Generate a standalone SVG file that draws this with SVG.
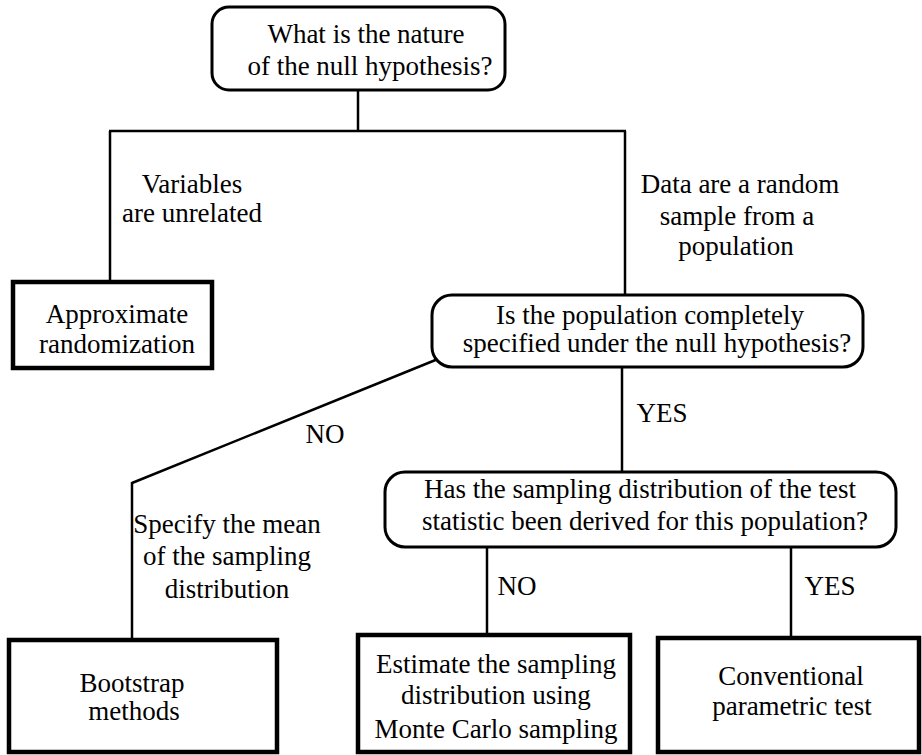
<svg xmlns="http://www.w3.org/2000/svg" width="922" height="755" viewBox="0 0 922 755">
<style>
  text { font-family: "Liberation Serif", "Times New Roman", serif; font-size: 27px; fill: #000; text-anchor: middle; }
  .q { fill: #fff; stroke: #000; stroke-width: 3; }
  .r { fill: #fff; stroke: #000; stroke-width: 4.5; }
  .c { stroke: #000; stroke-width: 2.5; fill: none; }
</style>
<rect x="0" y="0" width="922" height="755" fill="#fff"/>
<g id="connectors">
  <line class="c" x1="358" y1="90" x2="358" y2="131"/>
  <line class="c" x1="109" y1="131" x2="626" y2="131" stroke-width="3.5"/>
  <line class="c" x1="110" y1="131" x2="110" y2="282"/>
  <line class="c" x1="625" y1="131" x2="625" y2="295"/>
  <line class="c" x1="622" y1="367" x2="622" y2="472"/>
  <line class="c" x1="438" y1="359" x2="132" y2="483" stroke-width="4"/>
  <line class="c" x1="132" y1="482" x2="132" y2="640"/>
  <line class="c" x1="487" y1="547" x2="487" y2="635"/>
  <line class="c" x1="791" y1="547" x2="791" y2="638"/>
  <text x="192" y="193">Variables</text>
  <text x="192" y="222">are unrelated</text>
  <text x="740" y="193">Data are a random</text>
  <text x="737" y="225">sample from a</text>
  <text x="736" y="255">population</text>
  <text x="662" y="422">YES</text>
  <text x="325" y="443">NO</text>
  <text x="227" y="533">Specify the mean</text>
  <text x="227" y="565">of the sampling</text>
  <text x="227" y="598">distribution</text>
  <text x="517" y="595">NO</text>
  <text x="830" y="595">YES</text>
</g>
<g id="n_top">
  <rect class="q" x="212" y="7" width="293" height="83" rx="17"/>
  <text x="366" y="43">What is the nature</text>
  <text x="370" y="75">of the null hypothesis?</text>
</g>
<g id="n_approx">
  <rect class="r" x="13" y="282" width="199" height="86" stroke-width="5"/>
  <text x="117" y="323">Approximate</text>
  <text x="117" y="353">randomization</text>
</g>
<g id="n_population">
  <rect class="q" x="432" y="295" width="431" height="72" rx="20"/>
  <text x="650" y="324">Is the population completely</text>
  <text x="657" y="352">specified under the null hypothesis?</text>
</g>
<g id="n_sampling">
  <rect class="q" x="385" y="472" width="511" height="75" rx="20"/>
  <text x="640" y="498">Has the sampling distribution of the test</text>
  <text x="645" y="530">statistic been derived for this population?</text>
</g>
<g id="n_bootstrap">
  <rect class="r" x="9" y="640" width="268" height="112" stroke-width="4"/>
  <text x="132" y="692">Bootstrap</text>
  <text x="134" y="720">methods</text>
</g>
<g id="n_montecarlo">
  <rect class="r" x="358" y="635" width="272" height="117"/>
  <text x="496" y="673">Estimate the sampling</text>
  <text x="496" y="704">distribution using</text>
  <text x="496" y="738">Monte Carlo sampling</text>
</g>
<g id="n_conventional">
  <rect class="r" x="658" y="638" width="261" height="114" stroke-width="4"/>
  <text x="791" y="685">Conventional</text>
  <text x="792" y="715">parametric test</text>
</g>
</svg>
